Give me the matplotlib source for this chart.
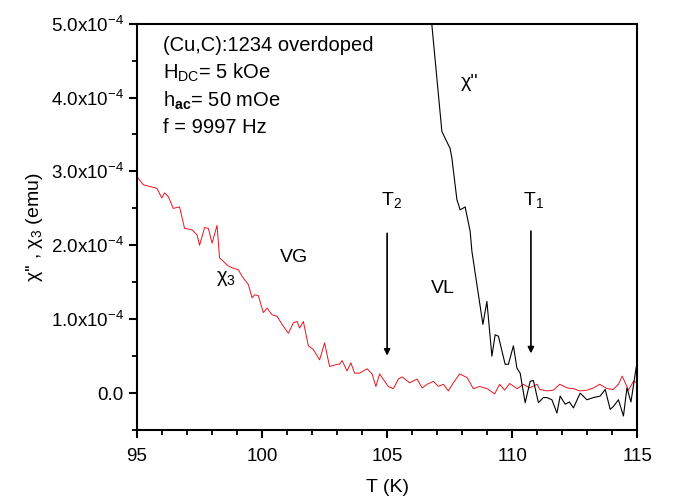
import numpy as np
import matplotlib
matplotlib.use("Agg")
import matplotlib.pyplot as plt
from matplotlib.ticker import MultipleLocator, FixedLocator

plt.rcParams["font.family"] = ["Liberation Sans", "DejaVu Sans"]
plt.rcParams["mathtext.fontset"] = "custom"
plt.rcParams["mathtext.rm"] = "Liberation Sans"
plt.rcParams["mathtext.it"] = "Liberation Sans:italic"
plt.rcParams["mathtext.bf"] = "Liberation Sans:bold"

# chi_3 (red), values in units of 1e-4 emu
t_chi3 = [95.0, 95.25, 95.8, 95.99, 96.1, 96.25, 96.45, 96.7, 96.9, 97.2, 97.4, 97.5,
          97.7, 97.85, 98.0, 98.2, 98.3, 98.65, 98.85, 99.05, 99.2, 99.45, 99.6, 99.7,
          99.85, 100.05, 100.2, 100.4, 100.6, 100.8, 101.05, 101.25, 101.4, 101.5,
          101.65, 101.85, 102.05, 102.3, 102.5, 102.7, 103.0, 103.1, 103.2, 103.4,
          103.55, 103.7, 103.9, 104.2, 104.4, 104.55, 104.7, 104.9, 105.05, 105.25,
          105.45, 105.6, 105.9, 106.2, 106.4, 106.6, 106.85, 107.05, 107.25, 107.45,
          107.65, 107.9, 108.2, 108.45, 108.7, 109.0, 109.3, 109.5, 109.7, 109.9,
          110.2, 110.45, 110.7, 111.0, 111.1, 111.4, 111.65, 111.9, 112.2, 112.45,
          112.7, 113.0, 113.25, 113.5, 113.8, 114.05, 114.25, 114.4, 114.65, 114.85, 115.0]
chi3 = [2.93, 2.82, 2.77, 2.64, 2.71, 2.66, 2.50, 2.52, 2.23, 2.21, 2.14, 2.00,
        2.24, 2.23, 2.03, 2.27, 1.83, 1.72, 1.69, 1.67, 1.58, 1.47, 1.29, 1.33,
        1.32, 1.09, 1.15, 1.06, 1.04, 0.93, 0.81, 0.95, 0.97, 0.88,
        0.97, 0.64, 0.59, 0.45, 0.68, 0.36, 0.39, 0.39, 0.44, 0.30,
        0.41, 0.27, 0.27, 0.33, 0.26, 0.09, 0.26, 0.16, 0.09, 0.06,
        0.19, 0.22, 0.14, 0.19, 0.07, 0.12, 0.16, 0.09, 0.12, 0.03,
        0.14, 0.26, 0.21, 0.06, 0.09, 0.06, -0.01, 0.12, 0.04, 0.13,
        0.06, 0.12, 0.07, 0.12, 0.05, 0.03, 0.04, 0.12, 0.07, 0.06,
        0.03, 0.04, 0.07, 0.12, 0.06, 0.05, 0.12, 0.23, 0.04, 0.16, 0.14]

# chi'' (black), values in units of 1e-4 emu
t_chi2 = [106.7, 106.79, 106.99, 107.19, 107.52, 107.59, 107.79, 107.92, 108.12,
          108.32, 108.39, 108.59, 108.83, 108.99, 109.19, 109.32, 109.45, 109.72,
          109.85, 110.05, 110.19, 110.32, 110.52, 110.72, 110.85, 111.05, 111.25,
          111.39, 111.59, 111.79, 111.92, 112.12, 112.29, 112.45, 112.72, 112.99,
          113.25, 113.52, 113.72, 113.92, 114.05, 114.25, 114.45, 114.59, 114.75, 114.96]
chi2 = [5.6, 4.98, 4.26, 3.54, 3.31, 3.18, 2.62, 2.48, 2.52,
        2.19, 1.92, 1.47, 0.93, 1.24, 0.50, 0.79, 0.77, 0.39,
        0.39, 0.64, 0.34, 0.27, -0.13, 0.16, 0.17, -0.13, -0.06,
        -0.06, -0.09, -0.27, -0.04, -0.15, -0.12, -0.20, 0.00, -0.09,
        -0.06, -0.04, 0.05, -0.22, -0.18, -0.09, -0.31, 0.07, -0.12, 0.35]

ytick_vals = [0.0, 1.0, 2.0, 3.0, 4.0, 5.0]
ytick_labels = ["0.0", r"1.0x10$^{-4}$", r"2.0x10$^{-4}$", r"3.0x10$^{-4}$",
                r"4.0x10$^{-4}$", r"5.0x10$^{-4}$"]

fig = plt.figure(figsize=(6.75, 5.03), dpi=100)
ax = fig.add_axes([0.203, 0.145, 0.741, 0.808])

scale = 1e-4
ax.plot(t_chi3, np.array(chi3) * scale, color="#e8141e", lw=0.7)
ax.plot(t_chi2, np.array(chi2) * scale, color="black", lw=0.8)

ax.set_xlim(95, 115)
ax.set_ylim(-0.5e-4, 5e-4)
ax.xaxis.set_major_locator(MultipleLocator(5))
ax.xaxis.set_minor_locator(MultipleLocator(1))
ax.yaxis.set_major_locator(FixedLocator(np.array(ytick_vals) * scale))
ax.set_yticklabels(ytick_labels)
ax.yaxis.set_minor_locator(MultipleLocator(0.5e-4))
ax.tick_params(which="major", direction="out", length=6, width=1.5, labelsize=13.5)
ax.tick_params(axis="x", which="major", pad=7)
ax.tick_params(which="minor", direction="out", length=3.5, width=1.3)
for sp in ax.spines.values():
    sp.set_linewidth(1.5)

ax.set_xlabel("T (K)", fontsize=14, labelpad=10)
ax.set_ylabel(r"χ'' , χ$_3$ (emu)", fontsize=14, labelpad=4)

info = [r"(Cu,C):1234 overdoped", r"H$_{\mathrm{DC}}$= 5 kOe",
        r"h$_{\mathbf{ac}}$= 50 mOe", "f = 9997 Hz"]
for i, s in enumerate(info):
    ax.text(96.05, 4.7e-4 - i * 0.37e-4, s, fontsize=14.5, va="center")

ax.text(107.95, 4.2e-4, "χ''", fontsize=14, va="center")
ax.text(98.15, 1.55e-4, r"χ$_3$", fontsize=14.5, va="center")
ax.text(100.7, 1.83e-4, "VG", fontsize=14, va="center")
ax.text(106.75, 1.42e-4, "VL", fontsize=14, va="center")
ax.text(104.75, 2.62e-4, r"T$_2$", fontsize=14, va="center")
ax.text(110.45, 2.62e-4, r"T$_1$", fontsize=14, va="center")

arrow = dict(arrowstyle="-|>", color="black", lw=1.2, mutation_scale=9)
ax.annotate("", xy=(105.0, 0.47e-4), xytext=(105.0, 2.2e-4), arrowprops=arrow)
ax.annotate("", xy=(110.75, 0.5e-4), xytext=(110.75, 2.23e-4), arrowprops=arrow)

fig.savefig("out.png", dpi=100)
